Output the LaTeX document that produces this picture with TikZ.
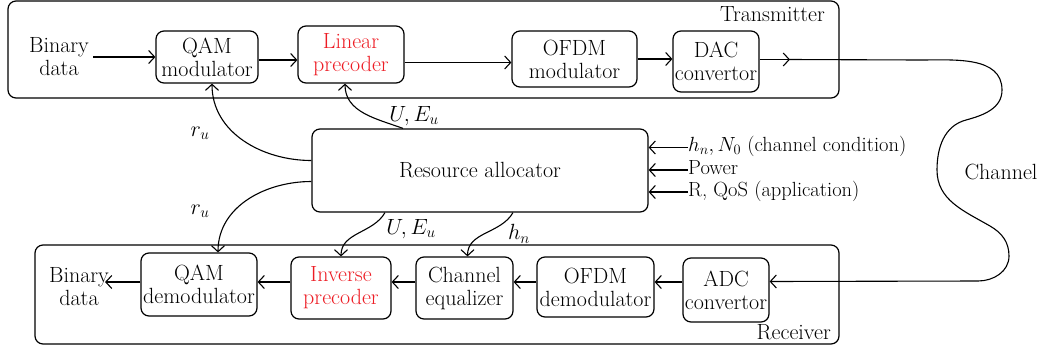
\RequirePackage{fix-cm}
\documentclass[tikz,border=0pt]{standalone}
\usetikzlibrary{arrows.meta}
\definecolor{pred}{RGB}{237,28,36}
\begin{document}
\begin{tikzpicture}[x=1pt,y=-1pt,
  every node/.style={font=\rmfamily\fontsize{22}{23}\selectfont},
  blk/.style={draw, rounded corners=8pt, line width=1.2pt, align=center, inner sep=0pt},
  frame/.style={draw, rounded corners=8pt, line width=1.2pt},
  arr/.style={-{Straight Barb[length=6pt,width=13pt,line width=1.1pt]}, line width=1.1pt},
  lbl/.style={inner sep=0pt},
  inp/.style={inner sep=0pt, anchor=west, text height=11pt, text depth=3pt,
    font=\rmfamily\fontsize{20.5}{22}\selectfont},
  red/.style={text=pred}]
\useasboundingbox (0,0) rectangle (1039,349);
% frames
\draw[frame] (8,1) rectangle (839,98);
\draw[frame] (35,245) rectangle (839,344);
\node[lbl, anchor=north east] (tx) at (825,6) {Transmitter};
\node[lbl, anchor=south east] (rx) at (831,340) {Receiver};
% transmitter blocks
\node[lbl, align=center] (bin1) at (59,57) {Binary\\data};
\node[blk, minimum width=102pt, minimum height=52pt] (qam) at (207,57) {QAM\\modulator};
\node[blk, red, minimum width=106pt, minimum height=57pt] (lin) at (351,54.5) {Linear\\precoder};
\node[blk, minimum width=125pt, minimum height=56pt] (ofdm) at (574.5,59) {OFDM\\modulator};
\node[blk, minimum width=86pt, minimum height=61pt] (dac) at (716,61.5) {DAC\\convertor};
\coordinate (c1) at (790,59.5);
% allocator
\node[blk, minimum width=336pt, minimum height=83pt] (alloc) at (480,170.5) {Resource allocator};
\node[inp] (in1) at (688,147.5) {$h_n, N_0$ (channel condition)};
\node[inp] (in2) at (688,170) {Power};
\node[inp] (in3) at (688,192) {R, QoS (application)};
\node[lbl] (chl) at (1001,172) {Channel};
% receiver blocks
\node[lbl, align=center] (bin2) at (79,287) {Binary\\data};
\node[blk, minimum width=116pt, minimum height=63pt] (qamd) at (199,284.5) {QAM\\demodulator};
\node[blk, red, minimum width=100pt, minimum height=62pt] (inv) at (341,288) {Inverse\\precoder};
\node[blk, minimum width=97pt, minimum height=62pt] (eq) at (464.5,288) {Channel\\equalizer};
\node[blk, minimum width=117pt, minimum height=60pt] (ofdmd) at (595.5,287) {OFDM\\demodulator};
\node[blk, minimum width=86pt, minimum height=64pt] (adc) at (726,290) {ADC\\convertor};
% labels
\node[lbl] (lr1) at (200,133) {$r_u$};
\node[lbl] (lr2) at (200,211) {$r_u$};
\node[lbl] (lu1) at (414,116) {$U, E_u$};
\node[lbl] (lu2) at (411,229) {$U, E_u$};
\node[lbl] (lh) at (519,234) {$h_n$};
% top chain
\draw[arr] ([xshift=4pt]bin1.east |- qam.west) -- (qam.west);
\draw[arr] ([yshift=-3pt]qam.east) -- ([yshift=-3pt]qam.east -| lin.west);
\draw[arr] ([yshift=-8pt]lin.east) -- ([yshift=-8pt]lin.east -| ofdm.west);
\draw[arr] (ofdm.east) -- (ofdm.east -| dac.west);
\draw[arr] (dac.east |- c1) -- (c1);
% channel
\draw[arr] (c1) -- (920,60) to[out=0,in=90] (1002,90) to[out=-90,in=15] (966,120)
  to[out=195,in=90] (937,170) to[out=-90,in=150] (990,226) to[out=-30,in=90] (1009,256)
  to[out=-90,in=0] (978,281) -- (adc.east |- 0,281.5);
% bottom chain
\draw[arr] (adc.west |- 0,282) -- (ofdmd.east |- 0,282);
\draw[arr] (ofdmd.west |- 0,282) -- (eq.east |- 0,282);
\draw[arr] (eq.west |- 0,282) -- (inv.east |- 0,282);
\draw[arr] (inv.west |- 0,282) -- (qamd.east |- 0,282);
\draw[arr] (qamd.west |- 0,282) -- ([xshift=-4pt]bin2.east |- 0,282);
% allocator inputs
\draw[arr] (in1.west) -- (in1.west -| alloc.east);
\draw[arr] (in2.west) -- (in2.west -| alloc.east);
\draw[arr] (in3.west) -- (in3.west -| alloc.east);
% allocator outputs
\draw[arr] ([yshift=10pt]alloc.west) to[out=180,in=-90] ([xshift=5pt]qam.south);
\draw[arr] ([xshift=-77pt]alloc.north) to[out=160,in=-90] ([xshift=-6pt]lin.south);
\draw[arr] ([yshift=-11pt]alloc.west) to[out=180,in=90] ([xshift=19pt]qamd.north);
\draw[arr] ([xshift=-95pt]alloc.south) to[out=-120,in=90] (inv.north);
\draw[arr] ([xshift=33pt]alloc.south) to[out=-120,in=90] ([xshift=3pt]eq.north);
\end{tikzpicture}
\end{document}
